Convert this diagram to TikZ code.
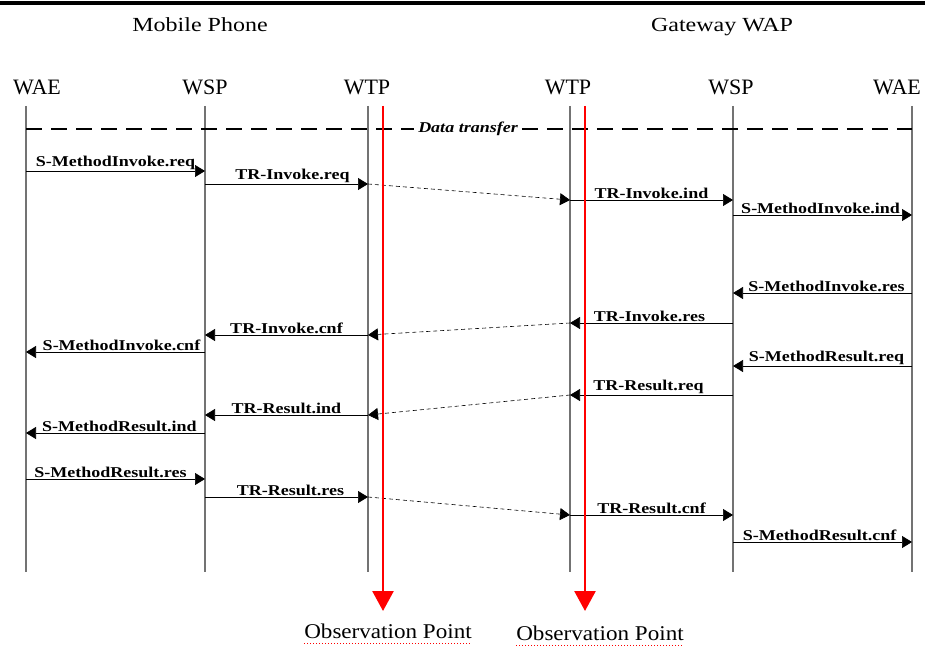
\documentclass[tikz,border=0pt]{standalone}
\usepackage{fontspec}
\setmainfont{Liberation Serif}
\newfontfamily\lblfont{Liberation Serif}[FakeStretch=1.2]
\newfontfamily\titlefont{Liberation Serif}[FakeStretch=1.2]
\newfontfamily\obsfont{Liberation Serif}[FakeStretch=1.1]
\usetikzlibrary{arrows.meta}

\begin{document}
\begin{tikzpicture}[x=1pt, y=-1pt]
	\tikzstyle{life}=[draw=gray!90!black, line width=1.1pt]
	\tikzstyle{msg}=[-{Triangle[length=10pt, width=12pt]}, line width=0.7pt]
	\tikzstyle{relay}=[msg, dash pattern=on 4pt off 3pt, line width=0.6pt]
	\tikzstyle{lbl}=[font=\lblfont\bfseries\fontsize{15}{17}\selectfont, inner sep=0.6pt, above]
	\tikzstyle{head}=[font=\fontsize{22}{24}\selectfont, inner sep=0pt]
	\tikzstyle{side}=[font=\titlefont\fontsize{20}{22}\selectfont, inner sep=0pt]
	\tikzstyle{phase}=[line width=1.6pt, dash pattern=on 16pt off 9pt]
	\tikzstyle{obs}=[draw=red, line width=2.6pt, -{Triangle[length=20pt, width=21pt]}, red]
	\tikzstyle{obstext}=[font=\obsfont\fontsize{21}{23}\selectfont, inner sep=0pt]
	\useasboundingbox (0,0) rectangle (925,650);

	% top bar
	\draw [line width=4.5pt] (0,3) -- (925,3);

	% sides
	\draw node[side] at (200,25) (phone) {Mobile Phone};
	\draw node[side] at (722,27) (gateway) {Gateway WAP};

	% layers
	\draw node[head] at (37,87) (waeAtxt) {WAE};
	\draw node[head] at (205,87) (wspAtxt) {WSP};
	\draw node[head] at (367,87) (wtpAtxt) {WTP};
	\draw node[head] at (568,87) (wtpBtxt) {WTP};
	\draw node[head] at (731,87) (wspBtxt) {WSP};
	\draw node[head] at (897,87) (waeBtxt) {WAE};

	\foreach \name/\x in {waeA/26, wspA/205, wtpA/368, wtpB/570, wspB/733, waeB/912} {
		\coordinate (\name) at (\x,106);
		\coordinate (\name end) at (\x,572);
		\draw [life] (\name) -- (\name end);
	}

	% data transfer
	\draw node[font=\lblfont\bfseries\itshape\fontsize{15}{17}\selectfont, inner sep=4pt] at (468,129) (dt) {Data transfer};
	\draw [phase] (waeA |- dt) -- (dt.west);
	\draw [phase] (dt.east) -- (waeB |- dt);

	% invoke
	\draw [msg] (waeA |- 0,171) -- (wspA |- 0,171) node[lbl, midway] {S-MethodInvoke.req};
	\draw [msg] (wspA |- 0,184) -- (wtpA |- 0,184) node[lbl, midway, xshift=6pt] {TR-Invoke.req};
	\draw [relay] (wtpA |- 0,184) -- (wtpB |- 0,200);
	\draw [msg] (wtpB |- 0,200) -- (wspB |- 0,200) node[lbl, midway] {TR-Invoke.ind};
	\draw [msg] (wspB |- 0,215) -- (waeB |- 0,215) node[lbl, midway, xshift=-2pt] {S-MethodInvoke.ind};

	\draw [msg] (waeB |- 0,293) -- (wspB |- 0,293) node[lbl, midway, xshift=4pt] {S-MethodInvoke.res};
	\draw [msg] (wspB |- 0,323) -- (wtpB |- 0,323) node[lbl, midway, xshift=-2pt] {TR-Invoke.res};
	\draw [relay] (wtpB |- 0,323) -- (wtpA |- 0,335);
	\draw [msg] (wtpA |- 0,335) -- (wspA |- 0,335) node[lbl, midway] {TR-Invoke.cnf};
	\draw [msg] (wspA |- 0,352) -- (waeA |- 0,352) node[lbl, midway, xshift=6pt] {S-MethodInvoke.cnf};

	% result
	\draw [msg] (waeB |- 0,366) -- (wspB |- 0,366) node[lbl, midway, xshift=4pt] {S-MethodResult.req};
	\draw [msg] (wspB |- 0,395) -- (wtpB |- 0,395) node[lbl, midway, xshift=-3pt] {TR-Result.req};
	\draw [relay] (wtpB |- 0,395) -- (wtpA |- 0,415);
	\draw [msg] (wtpA |- 0,415) -- (wspA |- 0,415) node[lbl, midway] {TR-Result.ind};
	\draw [msg] (wspA |- 0,433) -- (waeA |- 0,433) node[lbl, midway, xshift=4pt] {S-MethodResult.ind};

	\draw [msg] (waeA |- 0,479) -- (wspA |- 0,479) node[lbl, midway, xshift=-5pt] {S-MethodResult.res};
	\draw [msg] (wspA |- 0,497) -- (wtpA |- 0,497) node[lbl, midway, xshift=4pt] {TR-Result.res};
	\draw [relay] (wtpA |- 0,497) -- (wtpB |- 0,515);
	\draw [msg] (wtpB |- 0,515) -- (wspB |- 0,515) node[lbl, midway] {TR-Result.cnf};
	\draw [msg] (wspB |- 0,542) -- (waeB |- 0,542) node[lbl, midway, xshift=-3pt] {S-MethodResult.cnf};

	% observation points
	\coordinate (obsA) at (383,106);
	\coordinate (obsB) at (585,106);
	\draw node[obstext, anchor=base] at (388,638) (obsAtxt) {Observation Point};
	\draw node[obstext, anchor=base] at (600,640) (obsBtxt) {Observation Point};
	\draw [obs] (obsA) -- (obsA |- 0,611);
	\draw [obs] (obsB) -- (obsB |- 0,611);
	\draw [red, dotted, line width=1pt] ([yshift=-5pt]obsAtxt.base west) -- ([yshift=-5pt]obsAtxt.base east);
	\draw [red, dotted, line width=1pt] ([yshift=-5pt]obsBtxt.base west) -- ([yshift=-5pt]obsBtxt.base east);
\end{tikzpicture}
\end{document}
